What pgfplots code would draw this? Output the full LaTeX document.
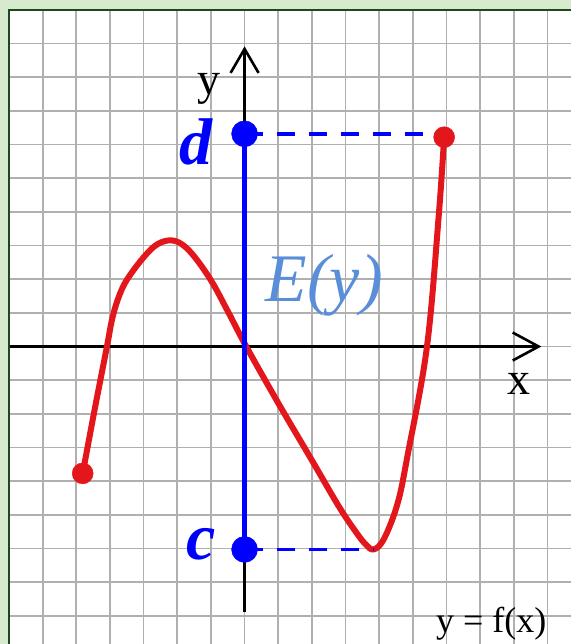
\documentclass[border=0pt]{standalone}
\usepackage{pgfplots}
\pgfplotsset{compat=1.18}
\usepackage{fontspec}
\setmainfont{Liberation Serif}
\usetikzlibrary{arrows.meta}
\definecolor{bgg}{HTML}{D6EBCD}
\definecolor{frm}{HTML}{1E4620}
\definecolor{gridc}{HTML}{B0B0B0}
\definecolor{fred}{HTML}{E3161B}
\definecolor{eblue}{HTML}{5A8ED8}
\begin{document}
\begin{tikzpicture}[x=1pt,y=1pt]
\useasboundingbox (0,0) rectangle (571,644);
\clip (0,0) rectangle (571,644);
\fill[bgg] (0,0) rectangle (571,644);
\fill[white] (9,0) rectangle (571,634);
\begin{axis}[at={(9pt,0pt)}, anchor=south west, scale only axis,
  width=562pt, height=634pt, xmin=-7, xmax=9.70, ymin=-8.84, ymax=10,
  clip=false, axis line style={draw=none},
  xtick={-7,...,9}, ytick={-8,...,10}, xticklabels={}, yticklabels={},
  major tick length=0pt, grid=major,
  major grid style={gridc, line width=1.7pt}]
% axes
\draw[line width=2.6pt, -{Straight Barb[length=26pt,width=28pt,line width=2.6pt]}] (axis cs:-7,0) -- (axis cs:8.82,0);
\draw[line width=2.6pt, -{Straight Barb[length=24pt,width=28pt,line width=2.6pt]}] (axis cs:0,-7.9) -- (axis cs:0,8.92);
% curve
\addplot[fred, line width=6pt, smooth, tension=0.6, line cap=round, line join=round] coordinates {
(-4.81,-3.77) (-4.46,-1.9) (-4.09,0) (-3.95,0.75) (-3.8,1.3) (-3.6,1.8)
(-3.35,2.2) (-3.0,2.65) (-2.65,3.0) (-2.28,3.15) (-1.93,3.08) (-1.54,2.73)
(-1.0,1.97) (-0.5,1.05) (0.05,0) (1.0,-1.68) (2.0,-3.38) (2.8,-4.75)
(3.3,-5.5) (3.6,-5.88) (3.84,-6.03) (4.15,-5.7) (4.55,-4.65) (4.85,-3.2)
(5.42,0) (5.77,3.9) (5.93,6.22)};
% range segment
\addplot[blue, line width=5pt] coordinates {(0,-6.03) (0,6.32)};
\addplot[blue, line width=3.5pt, dash pattern=on 18pt off 14pt] coordinates {(0,6.32) (5.93,6.32)};
\addplot[blue, line width=3.5pt, dash pattern=on 18pt off 14pt] coordinates {(0,-6.03) (3.84,-6.03)};
\addplot[only marks, mark=*, mark size=10.5pt, fred, mark options={draw=none, fill=fred}] coordinates {(-4.81,-3.77) (5.93,6.22)};
\addplot[only marks, mark=*, mark size=13pt, blue, mark options={draw=none, fill=blue}] coordinates {(0,6.32) (0,-6.03)};
% labels
\node[anchor=base, inner sep=0pt, blue] at (axis cs:-1.44,5.41) {\fontsize{66}{66}\selectfont\bfseries\itshape d};
\node[anchor=base, inner sep=0pt, blue] at (axis cs:-1.29,-6.33) {\fontsize{66}{66}\selectfont\bfseries\itshape c};
\node[anchor=base west, inner sep=0pt, eblue] at (axis cs:0.62,1.34) {\fontsize{68}{68}\selectfont\itshape E(y)};
\node[anchor=base, inner sep=0pt] at (axis cs:-1.06,7.49) {\fontsize{46}{46}\selectfont y};
\node[anchor=base, inner sep=0pt] at (axis cs:8.14,-1.43) {\fontsize{46}{46}\selectfont x};
\node[anchor=base, inner sep=0pt] at (axis cs:7.33,-8.5) {\fontsize{36}{36}\selectfont y = f(x)};
\end{axis}
\draw[frm, line width=2pt] (9,0) -- (9,634) -- (571,634);
\end{tikzpicture}
\end{document}
